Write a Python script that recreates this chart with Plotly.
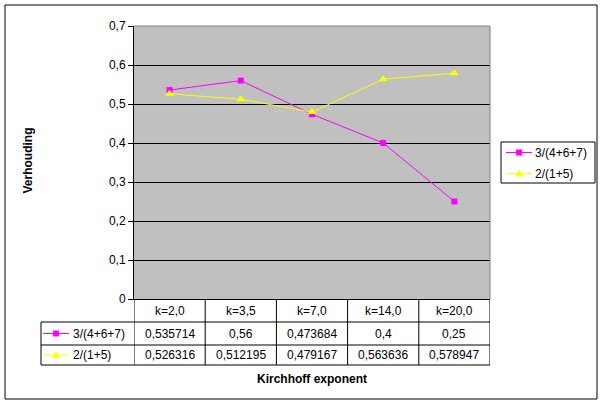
import plotly.graph_objects as go

categories = ["k=2,0", "k=3,5", "k=7,0", "k=14,0", "k=20,0"]
series_a_name = "3/(4+6+7)"
series_a = [0.535714, 0.56, 0.473684, 0.4, 0.25]
series_b_name = "2/(1+5)"
series_b = [0.526316, 0.512195, 0.479167, 0.563636, 0.578947]
y_ticks = [0, 0.1, 0.2, 0.3, 0.4, 0.5, 0.6, 0.7]
y_tick_labels = ["0", "0,1", "0,2", "0,3", "0,4", "0,5", "0,6", "0,7"]

MAG = "#FF00FF"
YEL = "#FFFF00"
FONT = "Liberation Sans, Arial, sans-serif"

W, H = 601, 403
L, R, T, B = 134, 490, 26, 299

def px(p):
    return (p - L) / (R - L)

def py(p):
    return (B - p) / (B - T)

def fmt(v):
    return str(v).replace(".", ",")

xi = list(range(len(categories)))

fig = go.Figure()
fig.add_trace(go.Scatter(x=xi, y=series_a, name=series_a_name, mode="lines+markers",
                         line=dict(color=MAG, width=1),
                         marker=dict(symbol="square", size=6, color=MAG)))
fig.add_trace(go.Scatter(x=xi, y=series_b, name=series_b_name, mode="lines+markers",
                         line=dict(color=YEL, width=1),
                         marker=dict(symbol="triangle-up", size=8, color=YEL)))

shapes = []
# outer border
shapes.append(dict(type="rect", xref="paper", yref="paper", x0=px(5), x1=px(597),
                   y0=py(5), y1=py(399), line=dict(color="black", width=1), layer="below"))
# plot area border (gray)
shapes.append(dict(type="line", xref="paper", yref="paper", x0=0, x1=1, y0=1, y1=1,
                   line=dict(color="#808080", width=1)))
shapes.append(dict(type="line", xref="paper", yref="paper", x0=1, x1=1, y0=0, y1=1,
                   line=dict(color="#808080", width=1)))

# data table lines
row_lines = [322, 345, 365]
for rp in row_lines:
    shapes.append(dict(type="line", xref="paper", yref="paper", x0=px(41), x1=1,
                       y0=py(rp), y1=py(rp), line=dict(color="black", width=1)))
for i in range(len(categories) + 1):
    xb = i - 0.5
    shapes.append(dict(type="line", xref="x", yref="paper", x0=xb, x1=xb,
                       y0=0, y1=py(365), line=dict(color="black", width=1)))
shapes.append(dict(type="line", xref="paper", yref="paper", x0=px(41), x1=px(41),
                   y0=py(322), y1=py(365), line=dict(color="black", width=1)))


def key(xl, xr, xm, yc, col, symbol):
    out = [dict(type="line", xref="paper", yref="paper", x0=px(xl), x1=px(xr),
                y0=py(yc), y1=py(yc), line=dict(color=col, width=1))]
    if symbol == "square":
        out.append(dict(type="rect", xref="paper", yref="paper", xsizemode="pixel",
                        ysizemode="pixel", xanchor=px(xm), yanchor=py(yc),
                        x0=-3, x1=3, y0=-3, y1=3, fillcolor=col, line=dict(width=0)))
    else:
        out.append(dict(type="path", xref="paper", yref="paper", xsizemode="pixel",
                        ysizemode="pixel", xanchor=px(xm), yanchor=py(yc),
                        path="M -4 -3 L 4 -3 L 0 4 Z", fillcolor=col, line=dict(width=0)))
    return out

# legend keys in table
row_centers = [333.5, 355]
names = [series_a_name, series_b_name]
colors = [MAG, YEL]
symbols = ["square", "triangle"]
for rc, col, sym in zip(row_centers, colors, symbols):
    shapes += key(43, 69, 56, rc, col, sym)

# legend box (drawn manually)
leg_rows = [152.5, 173.5]
shapes.append(dict(type="rect", xref="paper", yref="paper", x0=px(501), x1=px(595),
                   y0=py(142), y1=py(183), fillcolor="white", line=dict(color="black", width=1)))
for rc, col, sym in zip(leg_rows, colors, symbols):
    shapes += key(506, 532, 519, rc, col, sym)


def ann(x, y, text, xref="paper", xanchor="center", **kw):
    return dict(x=x, xref=xref, y=y, yref="paper", text=text, showarrow=False,
                xanchor=xanchor, yanchor="middle",
                font=dict(size=12, color="black", family=FONT), **kw)

annotations = []
for i, c in enumerate(categories):
    annotations.append(ann(i, py(310.5), c, xref="x"))
    annotations.append(ann(i, py(row_centers[0]), fmt(series_a[i]), xref="x"))
    annotations.append(ann(i, py(row_centers[1]), fmt(series_b[i]), xref="x"))
for rc, nm in zip(row_centers, names):
    annotations.append(ann(px(71), py(rc), nm, xanchor="left"))
for rc, nm in zip(leg_rows, names):
    annotations.append(ann(px(533), py(rc), nm, xanchor="left"))
annotations.append(ann(0.5, py(379), "<b>Kirchhoff exponent</b>"))
annotations.append(ann(px(27.5), py(161), "<b>Verhouding</b>", textangle=-90))

fig.update_layout(
    width=W, height=H,
    margin=dict(l=L, r=W - R, t=T, b=H - B, pad=0, autoexpand=False),
    paper_bgcolor="white", plot_bgcolor="#C0C0C0",
    font=dict(family=FONT, size=12, color="black"),
    showlegend=False,
    shapes=shapes, annotations=annotations,
)
fig.update_xaxes(range=[-0.5, len(categories) - 0.5], showticklabels=False, showgrid=False,
                 zeroline=False, showline=True, linecolor="black", linewidth=1, ticks="")
fig.update_yaxes(range=[0, 0.7], tickvals=y_ticks, ticktext=y_tick_labels, showgrid=True,
                 gridcolor="black", gridwidth=1, zeroline=False, showline=True, linecolor="black",
                 linewidth=1, ticks="outside", ticklen=5, tickcolor="black",
                 tickfont=dict(size=12, color="black", family=FONT))

fig.write_html("out.html")
